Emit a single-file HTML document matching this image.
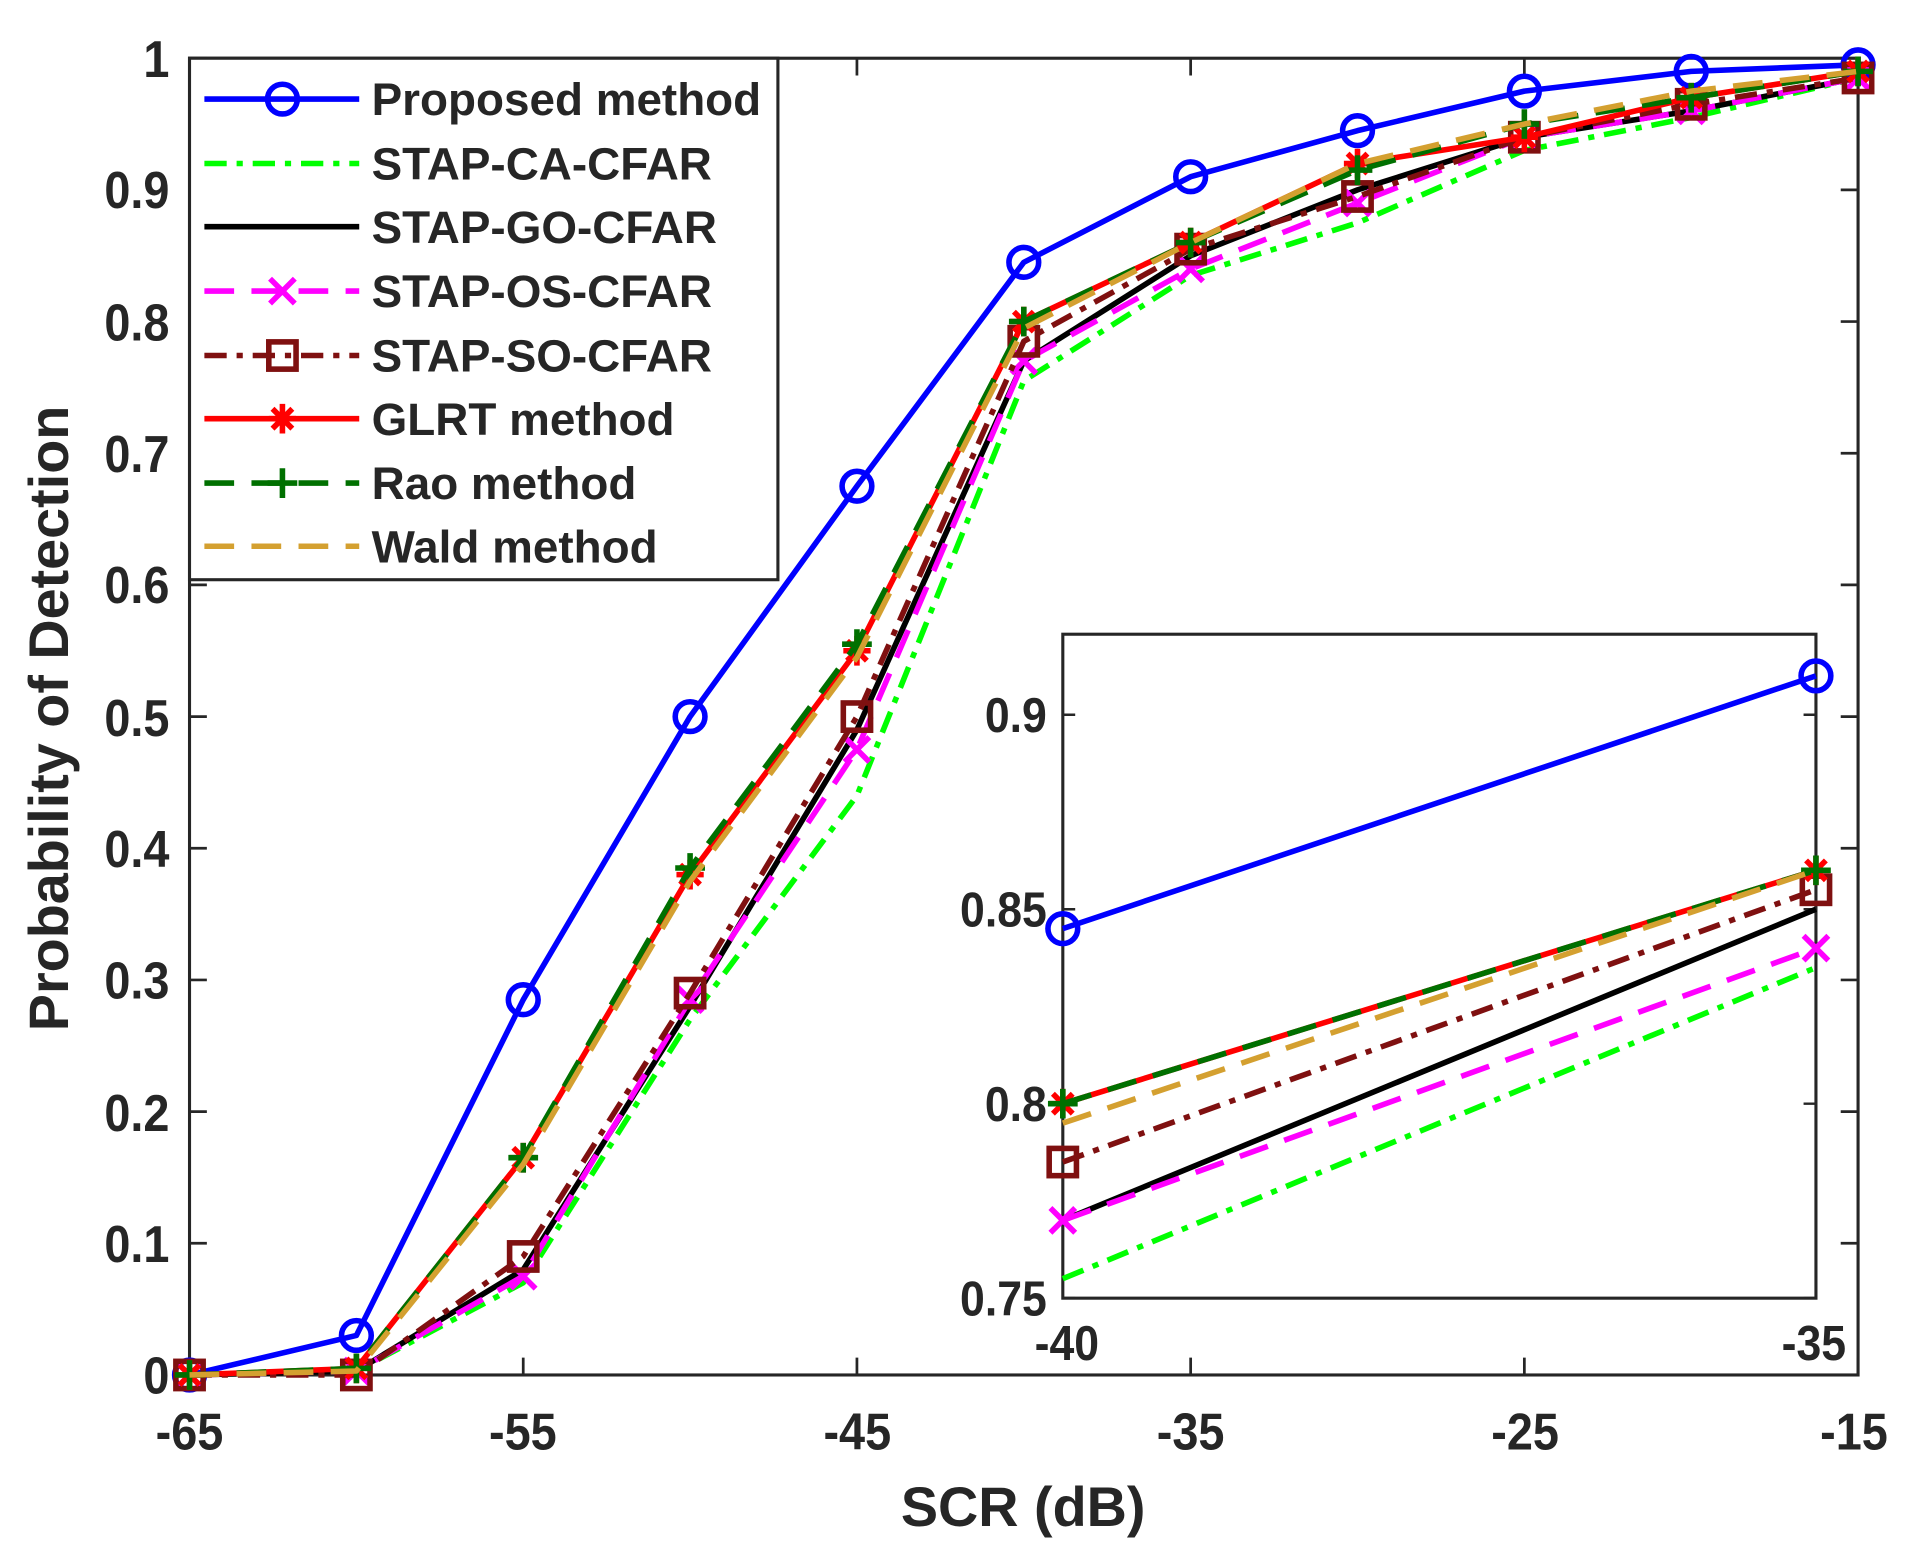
<!DOCTYPE html>
<html><head><meta charset="utf-8"><style>
html,body{margin:0;padding:0;background:#fff}
svg{display:block}
text{font-family:"Liberation Sans",sans-serif;font-weight:bold;fill:#262626}
</style></head><body>
<svg id="s" width="1920" height="1550" viewBox="0 0 1550 1251.3" preserveAspectRatio="none" xmlns="http://www.w3.org/2000/svg">
<rect x="0" y="0" width="1550" height="1252" fill="#fff"/>
<g id="main"></g>
<g font-size="42" text-anchor="end" transform="scale(0.9,1)">
<text x="152" y="1125">0</text><text x="152" y="1019">0.1</text><text x="152" y="913">0.2</text><text x="152" y="806">0.3</text><text x="152" y="700">0.4</text><text x="152" y="594">0.5</text><text x="152" y="487">0.6</text><text x="152" y="381">0.7</text><text x="152" y="275">0.8</text><text x="152" y="168">0.9</text><text x="152" y="62">1</text>
</g>
<g font-size="42" text-anchor="middle" transform="scale(0.9,1)">
<text x="170" y="1170">-65</text><text x="469" y="1170">-55</text><text x="769" y="1170">-45</text><text x="1068" y="1170">-35</text><text x="1368" y="1170">-25</text><text x="1663" y="1170">-15</text>
</g>
<text x="826" y="1232" font-size="45" text-anchor="middle">SCR (dB)</text>
<text transform="translate(55,580) rotate(-90)" font-size="45" text-anchor="middle">Probability of Detection</text>
<g font-size="37">
<text x="300" y="93">Proposed method</text>
<text x="300" y="145">STAP-CA-CFAR</text>
<text x="300" y="196">STAP-GO-CFAR</text>
<text x="300" y="248">STAP-OS-CFAR</text>
<text x="300" y="300">STAP-SO-CFAR</text>
<text x="300" y="351">GLRT method</text>
<text x="300" y="403">Rao method</text>
<text x="300" y="454">Wald method</text>
</g>
<g font-size="40" text-anchor="end" transform="scale(0.9,1)">
<text x="939" y="1062">0.75</text><text x="939" y="905">0.8</text><text x="939" y="748">0.85</text><text x="939" y="591">0.9</text>
</g>
<g font-size="40" text-anchor="middle" transform="scale(0.9,1)">
<text x="957" y="1098">-40</text><text x="1627" y="1098">-35</text>
</g>
</svg>
<script>
var NS="http://www.w3.org/2000/svg",g=document.getElementById("main");
function el(t,a){var e=document.createElementNS(NS,t);for(var k in a)e.setAttribute(k,a[k]);g.appendChild(e);return e;}
var xs=[-65,-60,-55,-50,-45,-40,-35,-30,-25,-20,-15];
var DD="18 8 5 8",DS="24 14";
var S=[
{c:"#0000ff",d:"",m:"o",v:[0,0.03,0.285,0.5,0.675,0.845,0.91,0.945,0.975,0.99,0.995]},
{c:"#00ff00",d:DD,m:"",v:[0,0.003,0.07,0.27,0.44,0.755,0.835,0.875,0.93,0.955,0.985]},
{c:"#000000",d:"",m:"",v:[0,0.003,0.08,0.28,0.49,0.77,0.85,0.9,0.94,0.96,0.985]},
{c:"#ff00ff",d:DS,m:"x",v:[0,0.003,0.075,0.285,0.475,0.77,0.84,0.89,0.94,0.96,0.985]},
{c:"#7f1010",d:DD,m:"s",v:[0,0,0.09,0.29,0.5,0.785,0.855,0.895,0.94,0.965,0.985]},
{c:"#ff0000",d:"",m:"*",v:[0,0.005,0.165,0.38,0.55,0.8,0.86,0.92,0.94,0.97,0.99]},
{c:"#007000",d:DS,m:"+",v:[0,0.005,0.165,0.385,0.555,0.8,0.86,0.915,0.95,0.97,0.99]},
{c:"#d4a030",d:DS,m:"",v:[0,0.003,0.16,0.375,0.545,0.795,0.86,0.92,0.95,0.975,0.99]}
];
var W=4.5;
function marker(m,x,y,c){
 var w=W;
 if(m=="o")el("circle",{cx:x,cy:y,r:12,fill:"none",stroke:c,"stroke-width":w});
 else if(m=="s")el("rect",{x:x-11,y:y-11,width:22,height:22,fill:"none",stroke:c,"stroke-width":w});
 else if(m=="x")el("path",{d:`M${x-10} ${y-10}L${x+10} ${y+10}M${x-10} ${y+10}L${x+10} ${y-10}`,stroke:c,"stroke-width":w});
 else if(m=="+")el("path",{d:`M${x-12} ${y}L${x+12} ${y}M${x} ${y-12}L${x} ${y+12}`,stroke:c,"stroke-width":w});
 else if(m=="*")el("path",{d:`M${x-11} ${y}L${x+11} ${y}M${x} ${y-12}L${x} ${y+12}M${x-8} ${y-8}L${x+8} ${y+8}M${x-8} ${y+8}L${x+8} ${y-8}`,stroke:c,"stroke-width":w});
}
function X(v){return 153+(v+65)/50*1347}function Y(p){return 1110-p*1063}
el("rect",{x:153,y:47,width:1347,height:1063,fill:"#fff",stroke:"#262626","stroke-width":2.5});
for(var i=0;i<=10;i++){var y=Y(i/10);el("path",{d:`M153 ${y}h14M1500 ${y}h-14`,stroke:"#262626","stroke-width":2.2});}
for(var v=-65;v<=-15;v+=10){var x=X(v);el("path",{d:`M${x} 1110v-14M${x} 47v14`,stroke:"#262626","stroke-width":2.2});}
S.forEach(function(s){
 var p=s.v.map(function(p,i){return X(xs[i])+","+Y(p)}).join(" ");
 var a={points:p,fill:"none",stroke:s.c,"stroke-width":W,"stroke-linejoin":"round"};if(s.d)a["stroke-dasharray"]=s.d;el("polyline",a);
 if(s.m)s.v.forEach(function(p,i){marker(s.m,X(xs[i]),Y(p),s.c)});
});
el("rect",{x:153,y:47,width:475,height:421,fill:"#fff",stroke:"#262626","stroke-width":2.5});
var ly=[80,132,183,235,287,338,390,441];
S.forEach(function(s,i){var a={d:`M165 ${ly[i]}H290`,stroke:s.c,"stroke-width":W};if(s.d)a["stroke-dasharray"]=s.d;el("path",a);if(s.m)marker(s.m,228,ly[i],s.c);});
function Xi(v){return 858+(v+40)/5*608}function Yi(p){return 1048-(p-0.75)/0.05*157}
el("rect",{x:858,y:512,width:608,height:536,fill:"#fff",stroke:"#262626","stroke-width":2.5});
[0.75,0.8,0.85,0.9].forEach(function(p){var y=Yi(p);el("path",{d:`M858 ${y}h10M1466 ${y}h-10`,stroke:"#262626","stroke-width":2});});
S.forEach(function(s){
 var a={x1:Xi(-40),y1:Yi(s.v[5]),x2:Xi(-35),y2:Yi(s.v[6]),stroke:s.c,"stroke-width":W};if(s.d)a["stroke-dasharray"]=s.d;el("line",a);
 if(s.m){marker(s.m,Xi(-40),Yi(s.v[5]),s.c);marker(s.m,Xi(-35),Yi(s.v[6]),s.c);}
});
</script>
</body></html>
